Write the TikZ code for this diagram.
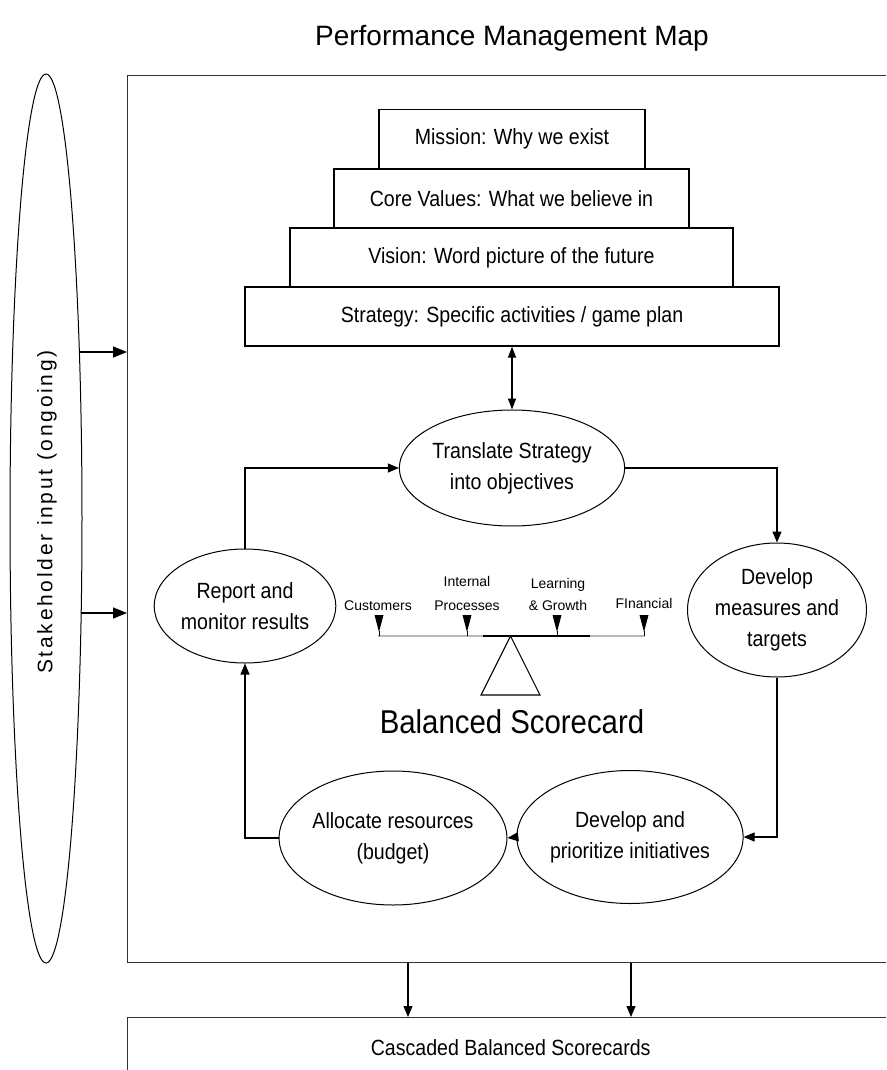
\documentclass[tikz,border=0pt]{standalone}
\usepackage{fontspec}
\setmainfont{Liberation Sans}
\newfontfamily\nar[FakeStretch=0.89]{Liberation Sans}
\newfontfamily\spaced[LetterSpace=13]{Liberation Sans}
\usetikzlibrary{shapes.geometric,arrows.meta}

\begin{document}
\begin{tikzpicture}[x=1pt,y=-1pt,
  line join=miter,
  arr/.style={-{Triangle[length=11pt,width=9pt]}, line width=1.1pt},
  bigarr/.style={-{Triangle[length=14pt,width=11pt]}, line width=1.2pt},
  tier/.style={draw, line width=1.2pt, rectangle, inner sep=0pt, minimum height=59pt,
    font=\nar\fontsize{22}{26}\selectfont},
  oval/.style={draw, line width=1pt, ellipse, inner sep=0pt, align=center,
    font=\nar\fontsize{22}{31}\selectfont},
  lbl/.style={font=\fontsize{14}{16}\selectfont, anchor=base, inner sep=0pt},
  marker/.style={fill=black}
]
\useasboundingbox (0,0) rectangle (886,1070);
\clip (0,0) rectangle (886,1070);

% title
\node[font=\fontsize{28}{32}\selectfont] (title) at (512,38) {Performance Management Map};

% outer frame and the cascade box below it
\node[draw=black!80, line width=1.3pt, anchor=north west, minimum width=780pt,
      minimum height=887pt, inner sep=0pt] (frame) at (127,75) {};
\node[draw=black!80, line width=1.3pt, anchor=north west, minimum width=766pt,
      minimum height=60pt, inner sep=0pt, font=\nar\fontsize{22}{26}\selectfont]
      (cascade) at (127,1017) {Cascaded Balanced Scorecards};

% stakeholder input
\node[draw, line width=1pt, ellipse, minimum width=72pt, minimum height=889pt,
      inner sep=0pt] (stake) at (46,518.5) {};
\node[rotate=90, font=\spaced\fontsize{21}{23}\selectfont] (staketext) at (47,512)
      {Stakeholder input (ongoing)};
\coordinate (s1) at (79.5,352);
\coordinate (s2) at (81,613);
\draw[bigarr] (s1) -- (s1 -| frame.west);
\draw[bigarr] (s2) -- (s2 -| frame.west);

% pyramid of statements
\node[tier, minimum width=266pt] (mission)  at (512,139)   {Mission: Why we exist};
\node[tier, minimum width=355pt] (values)   at (511.5,198.5) {Core Values: What we believe in};
\node[tier, minimum width=443pt] (vision)   at (511.5,257.5) {Vision: Word picture of the future};
\node[tier, minimum width=534pt] (strategy) at (512,316.5) {Strategy: Specific activities / game plan};

% cycle of steps
\node[oval, minimum width=180pt, minimum height=116pt] (translate) at (512,468)
      {Translate Strategy\\into objectives};
\node[oval, minimum width=179pt, minimum height=134pt] (measures) at (777,610)
      {Develop\\measures and\\targets};
\node[oval, minimum width=177pt, minimum height=133pt] (initiatives) at (630,837)
      {Develop and\\prioritize initiatives};
\node[oval, minimum width=177pt, minimum height=134pt] (allocate) at (393,838)
      {Allocate resources\\(budget)};
\node[oval, minimum width=179pt, minimum height=114pt] (report) at (245,606)
      {Report and\\monitor results};

\draw[{Triangle[length=11pt,width=8pt]}-{Triangle[length=11pt,width=8pt]}, line width=1.1pt]
      (strategy.south) -- (translate.north);
\draw[arr] (report.north) |- (translate.west);
\draw[arr] (translate.east) -| (measures.north);
\draw[arr] (measures.south) |- (initiatives.east);
\draw[arr] (initiatives.west) -- (allocate.east);
\draw[arr] (allocate.west) -| (report.south);

% balance scale
\draw[gray!55, line width=1.4pt] (378,636) -- (483,636);
\draw[black, line width=1.4pt] (483,636) -- (590,636);
\draw[gray!55, line width=1.4pt] (590,636) -- (645,636);
\draw[line width=1.1pt] (510.5,636) -- (540,695) -- (481,695) -- cycle;
\foreach \mx in {379,467,557,644}{
  \fill[marker] (\mx-4.5,615) -- (\mx+4.5,615) -- (\mx,632) -- cycle;
  \draw[line width=1pt] (\mx,631) -- (\mx,636);
}
\node[lbl] (cust)  at (378,610) {Customers};
\node[lbl] (int1)  at (467,586) {Internal};
\node[lbl] (int2)  at (467,610) {Processes};
\node[lbl] (learn1) at (558,588) {Learning};
\node[lbl] (learn2) at (558,610) {\& Growth};
\node[lbl] (fin)   at (644,608) {FInancial};

\node[font=\nar\fontsize{33}{36}\selectfont, anchor=base] (bsc) at (512,733)
      {Balanced Scorecard};

% cascade arrows
\coordinate (c1) at (408,0);
\coordinate (c2) at (631,0);
\draw[arr] (frame.south -| c1) -- (cascade.north -| c1);
\draw[arr] (frame.south -| c2) -- (cascade.north -| c2);
\end{tikzpicture}
\end{document}
